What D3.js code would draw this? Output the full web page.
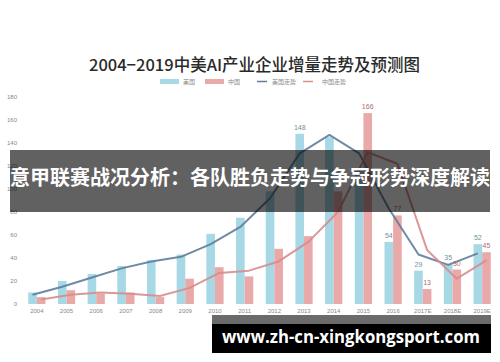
<!DOCTYPE html>
<html><head><meta charset="utf-8">
<script src="https://cdn.jsdelivr.net/npm/d3@7"></script>
<style>html,body{margin:0;padding:0;background:#fff;}svg{display:block;}</style>
</head><body>
<script>
const years = ["2004","2005","2006","2007","2008","2009","2010","2011","2012","2013","2014","2015","2016","2017E","2018E","2019E"];
const usNew = [10,20,26,33,38,43,61,75,98,148,145,116,54,29,35,52];
const cnNew = [6,12,9,10,6,22,32,24,48,59,98,166,77,13,30,45];
const usTrend = [8,15,23,31,37,41,52,67,92,131,147,131,83,43,34,44];
const cnTrend = [4,8,10,9,7,14,27,29,37,54,80,132,122,47,22,38];
const usLabelYears = ["2013","2016","2017E","2018E","2019E"];
const cnLabelYears = ["2015","2016","2017E","2018E","2019E"];
const yTicks = [0,20,40,60,80,100,120,140,160,180];
const title = "2004−2019中美AI产业企业增量走势及预测图";
const legendNames = ["美国","中国","美国走势","中国走势"];
const bannerText = "意甲联赛战况分析：各队胜负走势与争冠形势深度解读";
const watermark = "www.zh-cn-xingkongsport.com";

const W = 500, H = 362;
const C = {us:"#a7d8e5", cn:"#e9a9a9", usLine:"#5e7d9c", cnLine:"#d88c8c", axis:"#888"};
const svg = d3.select("body").append("svg").attr("width",W).attr("height",H);
const cjk = "'Noto Sans CJK SC','Noto Sans',sans-serif";

const x = d3.scaleBand().domain(years).range([22,497]).paddingInner(0.42).paddingOuter(0.21);
const xs = d3.scaleBand().domain(["us","cn"]).range([0,x.bandwidth()]);
const y = d3.scaleLinear().domain([0,180]).range([304,97]);

// title
svg.append("text").attr("x",254.5).attr("y",71).attr("text-anchor","middle")
  .attr("font-family",cjk).attr("font-weight",500).attr("font-size",16.5).attr("fill","#2a2a2a").text(title);

// legend
const lg = svg.append("g").attr("font-family",cjk).attr("font-size",6).attr("fill","#8a8a8a");
lg.append("rect").attr("x",160).attr("y",79).attr("width",19).attr("height",5).attr("fill",C.us);
lg.append("text").attr("x",183).attr("y",84).text(legendNames[0]);
lg.append("rect").attr("x",205).attr("y",79).attr("width",19).attr("height",5).attr("fill",C.cn);
lg.append("text").attr("x",228).attr("y",84).text(legendNames[1]);
lg.append("line").attr("x1",257).attr("x2",267).attr("y1",81.5).attr("y2",81.5).attr("stroke",C.usLine).attr("stroke-width",1.5);
lg.append("text").attr("x",272).attr("y",84).text(legendNames[2]);
lg.append("line").attr("x1",303).attr("x2",313).attr("y1",81.5).attr("y2",81.5).attr("stroke",C.cnLine).attr("stroke-width",1.5);
lg.append("text").attr("x",322).attr("y",84).text(legendNames[3]);

// y axis labels
const ya = svg.append("g").attr("transform","translate(17,0)")
  .call(d3.axisLeft(y).tickValues(yTicks).tickSize(0).tickPadding(0));
ya.select(".domain").remove();
ya.selectAll("text").attr("font-family","'Liberation Sans',sans-serif").attr("font-size",6).attr("fill",C.axis);

// x axis labels
const xa = svg.append("g").attr("transform","translate(0,309)")
  .call(d3.axisBottom(x).tickSize(0).tickPadding(0));
xa.select(".domain").remove();
xa.selectAll("text").attr("font-family","'Liberation Sans',sans-serif").attr("font-size",6).attr("fill",C.axis);

// bars
const g = svg.append("g");
g.selectAll(".us").data(years).join("rect").attr("class","us")
  .attr("x",d=>x(d)+xs("us")).attr("width",xs.bandwidth())
  .attr("y",(d,i)=>y(usNew[i])).attr("height",(d,i)=>y(0)-y(usNew[i])).attr("fill",C.us);
g.selectAll(".cn").data(years).join("rect").attr("class","cn")
  .attr("x",d=>x(d)+xs("cn")).attr("width",xs.bandwidth())
  .attr("y",(d,i)=>y(cnNew[i])).attr("height",(d,i)=>y(0)-y(cnNew[i])).attr("fill",C.cn);

// trend lines
const lineUS = d3.line().x((d,i)=>x(years[i])+xs("us")+xs.bandwidth()/2).y(d=>y(d));
const lineCN = d3.line().x((d,i)=>x(years[i])+xs("cn")+xs.bandwidth()/2).y(d=>y(d));
g.append("path").attr("d",lineUS(usTrend)).attr("fill","none").attr("stroke",C.usLine).attr("stroke-width",2).attr("stroke-linejoin","round").attr("opacity",0.9);
g.append("path").attr("d",lineCN(cnTrend)).attr("fill","none").attr("stroke",C.cnLine).attr("stroke-width",2).attr("stroke-linejoin","round").attr("opacity",0.9);

// data labels
const lab = svg.append("g").attr("font-family","'Liberation Sans',sans-serif").attr("font-size",7).attr("text-anchor","middle");
years.forEach((yr,i)=>{
  if(usLabelYears.includes(yr)) lab.append("text").attr("x",x(yr)+xs("us")+xs.bandwidth()/2).attr("y",y(usNew[i])-4).attr("fill","#6f8f9f").text(usNew[i]);
  if(cnLabelYears.includes(yr)) lab.append("text").attr("x",x(yr)+xs("cn")+xs.bandwidth()/2).attr("y",y(cnNew[i])-4).attr("fill","#b56a6a").text(cnNew[i]);
});

// banner overlay
svg.append("rect").attr("x",10).attr("y",150).attr("width",480).attr("height",62).attr("fill","rgba(0,0,0,0.62)");
svg.append("text").attr("x",10).attr("y",185).attr("font-family",cjk).attr("font-weight",700).attr("font-size",20)
  .attr("fill","#fff").text(bannerText);

// watermark
svg.append("rect").attr("x",212).attr("y",315).attr("width",279).attr("height",9).attr("fill","#6b6b6b");
svg.append("rect").attr("x",212).attr("y",324).attr("width",279).attr("height",29).attr("fill","#000");
svg.append("text").attr("x",222).attr("y",343).attr("font-family","'Open Sans',sans-serif").attr("font-weight",700).attr("font-size",18)
  .attr("textLength",258).attr("lengthAdjust","spacingAndGlyphs").attr("fill","#fff").text(watermark);
</script>
</body></html>
